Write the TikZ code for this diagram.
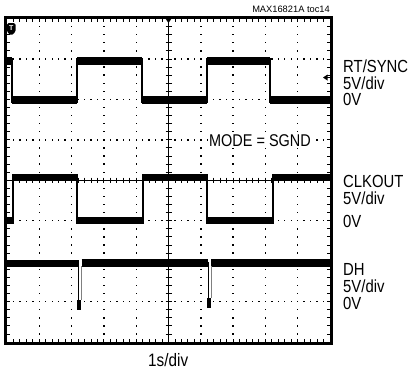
\documentclass[tikz,border=0pt]{standalone}
\usepackage{fontspec}
\setmainfont{Liberation Sans}[FakeStretch=0.85]
\newfontfamily\plainsans{Liberation Sans}
\begin{document}
\begin{tikzpicture}[x=1pt,y=-1pt,
  lvl/.style={line width=7.5pt, line cap=butt},
  edgeline/.style={line width=1.4pt},
  axisline/.style={line width=0.9pt},
  lbl/.style={anchor=base west, inner sep=0pt, font=\fontsize{17.5}{20}\selectfont}]
\useasboundingbox (0,0) rectangle (412,373);
% dotted grid
\foreach \i in {1,2,3,4,6,7,8,9}{
  \foreach \k in {1,...,39}{
    \fill ({7+\i*32.3-0.7},{18.5+\k*8.09-0.7}) rectangle ++(1.4,1.4);
  }
}
\foreach \j in {1,2,3,5,6,7}{
  \foreach \k in {1,...,49}{
    \fill ({7+\k*6.46-0.7},{18.5+\j*40.44-0.7}) rectangle ++(1.4,1.4);
  }
}
% centre axes with ticks
\draw[axisline] (168.5,18.5) -- (168.5,342);
\draw[axisline] (7,180.25) -- (330,180.25);
\foreach \k in {1,...,39}{
  \draw[axisline] (165.5,{18.5+\k*8.09}) -- (171.5,{18.5+\k*8.09});
  \draw[axisline] (7,{18.5+\k*8.09}) -- (10,{18.5+\k*8.09});
  \draw[axisline] (327,{18.5+\k*8.09}) -- (330,{18.5+\k*8.09});
}
\foreach \k in {1,...,49}{
  \draw[axisline] ({7+\k*6.46},177.5) -- ({7+\k*6.46},183);
  \draw[axisline] ({7+\k*6.46},18.5) -- ({7+\k*6.46},21.5);
  \draw[axisline] ({7+\k*6.46},339) -- ({7+\k*6.46},342);
}
% frame
\draw[line width=3pt] (5.5,17) rectangle (331,343);
% markers
\fill[rounded corners=1.5pt] (7,23) -- (15.5,23) -- (15.5,32) -- (11.25,35.5) -- (7,32) -- cycle;
\node[text=white, inner sep=0pt, font=\plainsans\bfseries\fontsize{7}{7}\selectfont] (trig) at (11.25,28.5) {T};
\fill (164.5,17) -- (172.5,17) -- (168.5,23) -- cycle;
\fill (323,77.5) -- (327.5,74.5) -- (327.5,80.5) -- cycle;
\draw[line width=1pt] (326,77.5) -- (330,77.5);
% RT/SYNC trace
\draw[lvl] (6,61) -- (12,61);
\draw[lvl] (12,100) -- (77,100);
\draw[lvl] (77,61) -- (142,61);
\draw[lvl] (142,100) -- (207,100);
\draw[lvl] (207,61) -- (270,61);
\draw[lvl] (270,100) -- (330,100);
\draw[edgeline] (12,58) -- (12,103);
\draw[edgeline] (77,58) -- (77,103);
\draw[edgeline] (142,58) -- (142,103);
\draw[edgeline] (207,58) -- (207,103);
\draw[edgeline] (270,58) -- (270,103);
% CLKOUT trace
\draw[lvl] (6,220.5) -- (13,220.5);
\draw[lvl] (13,177.5) -- (77,177.5);
\draw[lvl] (77,220.5) -- (143,220.5);
\draw[lvl] (143,177.5) -- (207,177.5);
\draw[lvl] (207,220.5) -- (273,220.5);
\draw[lvl] (273,177.5) -- (330,177.5);
\draw[edgeline] (13,174) -- (13,224);
\draw[edgeline] (77,174) -- (77,224);
\draw[edgeline] (143,174) -- (143,224);
\draw[edgeline] (207,174) -- (207,224);
\draw[edgeline] (273,174) -- (273,224);
% DH trace
\draw[lvl] (6,263.5) -- (77.5,263.5);
\draw[lvl] (81.5,263) -- (207.5,263);
\draw[lvl] (211,263) -- (330,263);
\draw[edgeline] (78.5,262) -- (78.5,310);
\fill (77,300) rectangle (80.5,310);
\draw[line width=0.8pt, gray] (81.5,266) -- (81.5,300);
\draw[edgeline] (208.5,262) -- (208.5,308);
\fill (207,298) rectangle (210.5,308);
\draw[line width=0.8pt, gray] (211.5,266) -- (211.5,298);
% labels
\node[lbl] (rt) at (343,72) {RT/SYNC};
\node[lbl] (rtv) at (343,89) {5V/div};
\node[lbl] (rtz) at (343,105.5) {0V};
\node[lbl] (ck) at (343,187) {CLKOUT};
\node[lbl] (ckv) at (343,204) {5V/div};
\node[lbl] (ckz) at (343,227.5) {0V};
\node[lbl] (dh) at (343,275.5) {DH};
\node[lbl] (dhv) at (343,292.5) {5V/div};
\node[lbl] (dhz) at (343,309.5) {0V};
\node[anchor=base west, fill=white, inner sep=1pt, font=\fontsize{17}{20}\selectfont] (mode) at (208,146.5) {MODE = SGND};
\node[anchor=base west, inner sep=0pt, font=\fontsize{18}{20}\selectfont] (tb) at (148,366.5) {1s/div};
\node[anchor=base east, inner sep=0pt, font=\plainsans\fontsize{9.3}{10}\selectfont] (id) at (330,12.5) {MAX16821A toc14};
\end{tikzpicture}
\end{document}
